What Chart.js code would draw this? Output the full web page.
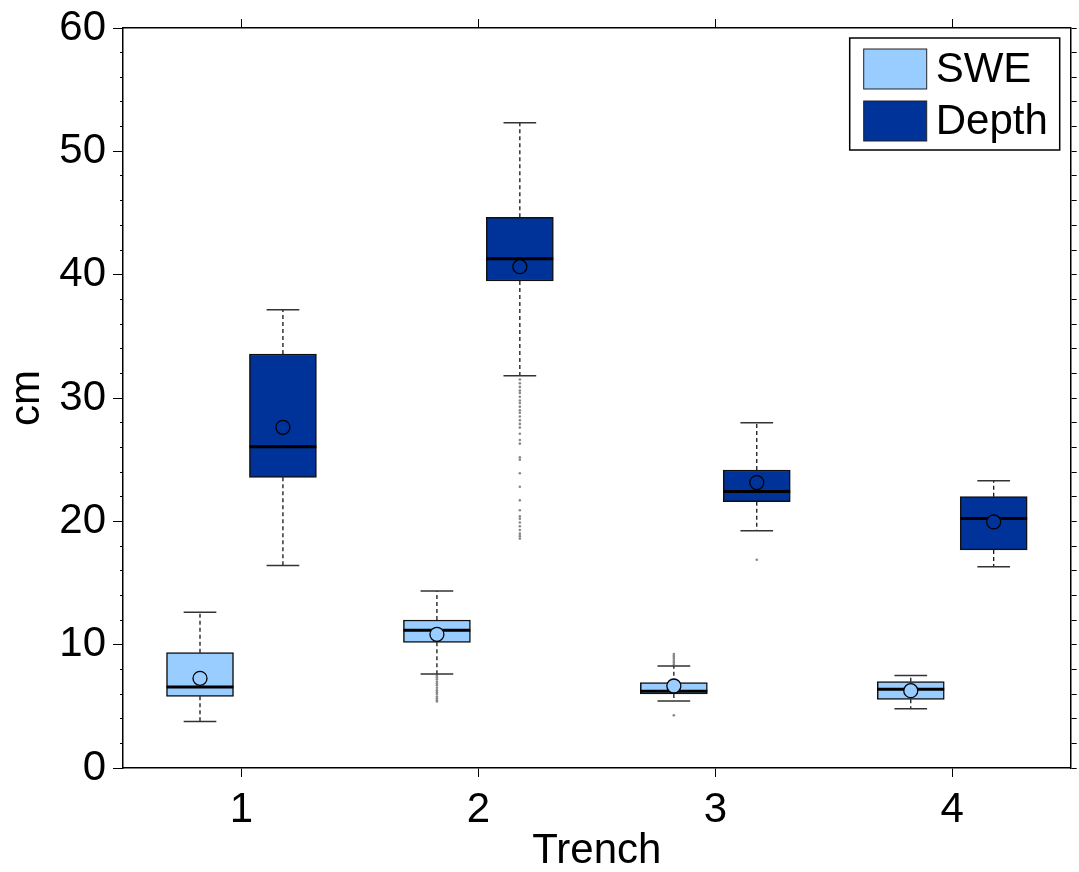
<!DOCTYPE html>
<html>
<head>
<meta charset="utf-8">
<script src="https://cdn.jsdelivr.net/npm/chart.js@4/dist/chart.umd.min.js"></script>
<style>
  html, body { margin: 0; padding: 0; background: #fff; }
  #wrap { width: 1079px; height: 872px; }
</style>
</head>
<body>
<div id="wrap"><canvas id="chart"></canvas></div>
<script>
// box plot values (cm)
const trenches = [1, 2, 3, 4];
const yTicks = [0, 10, 20, 30, 40, 50, 60];

const sweLow = [3.78, 7.62, 5.43, 4.81];
const sweQ1 = [5.81, 10.19, 6.00, 5.57];
const sweMedian = [6.57, 11.16, 6.22, 6.38];
const sweQ3 = [9.35, 12.00, 6.92, 7.00];
const sweHigh = [12.62, 14.35, 8.27, 7.49];
const sweMean = [7.27, 10.84, 6.65, 6.27];
const sweOutliers = [
  [],
  [7.5, 7.35, 7.2, 7.0, 6.85, 6.7, 6.5, 6.3, 6.15, 6.0, 5.8, 5.65, 5.5, 5.4],
  [8.4, 8.55, 8.7, 8.85, 9.0, 9.1, 9.24, 4.27],
  []
];

const depthLow = [16.41, 31.81, 19.24, 16.32];
const depthQ1 = [23.57, 39.49, 21.59, 17.68];
const depthMedian = [26.05, 41.30, 22.41, 20.22];
const depthQ3 = [33.57, 44.65, 24.16, 22.00];
const depthHigh = [37.16, 52.32, 28.00, 23.30];
const depthMean = [27.62, 40.65, 23.14, 19.95];
const depthOutliers = [
  [],
  [31.5, 31.2, 30.9, 30.6, 30.4, 30.1, 29.8, 29.6, 29.3, 29.0, 28.8, 28.5, 28.2, 27.9, 27.6, 27.1,
   26.6, 26.3, 25.2, 25.0, 23.9, 22.8, 21.7, 20.9, 20.4, 20.2, 19.9, 19.6, 19.3, 19.0, 18.8, 18.6],
  [16.89],
  []
];

const FONT = '"Liberation Sans", Arial, Helvetica, sans-serif';
const sweColor = '#99ccff';
const depthColor = '#003399';
// offsets in x units (one trench = 1)
const SIDE = 0.175, HALF_BOX = 0.141, HALF_CAP = 0.069;

function boxData(q1, q3, off) {
  return trenches.map((t, i) => ({ x: t + off, y: [q1[i], q3[i]] }));
}
function hSegs(vals, off, half) {
  const pts = [];
  trenches.forEach((t, i) => {
    pts.push({ x: t + off - half, y: vals[i] }, { x: t + off + half, y: vals[i] }, { x: t + off, y: null });
  });
  return pts;
}
function whiskers(q1, q3, lo, hi, off) {
  const pts = [];
  trenches.forEach((t, i) => {
    const x = t + off;
    pts.push({ x, y: q3[i] }, { x, y: hi[i] }, { x, y: null },
             { x, y: q1[i] }, { x, y: lo[i] }, { x, y: null });
  });
  return pts;
}
function points(vals, off) {
  return trenches.map((t, i) => ({ x: t + off, y: vals[i] }));
}
function outlierPts(out, off) {
  const pts = [];
  trenches.forEach((t, i) => out[i].forEach(v => pts.push({ x: t + off, y: v })));
  return pts;
}

const lineBase = { type: 'line', pointRadius: 0, fill: false, tension: 0, spanGaps: false };

const datasets = [
  // first dataset is drawn on top
  { type: 'scatter', data: points(sweMean, -SIDE), pointRadius: 7, pointBackgroundColor: sweColor,
    pointBorderColor: '#000', pointBorderWidth: 1.3 },
  { type: 'scatter', data: points(depthMean, SIDE), pointRadius: 7, pointBackgroundColor: depthColor,
    pointBorderColor: '#000', pointBorderWidth: 1.3 },
  { ...lineBase, data: hSegs(sweMedian, -SIDE, HALF_BOX), borderColor: '#000', borderWidth: 3 },
  { ...lineBase, data: hSegs(depthMedian, SIDE, HALF_BOX), borderColor: '#000', borderWidth: 3 },
  { type: 'bar', label: 'SWE', data: boxData(sweQ1, sweQ3, -SIDE), backgroundColor: sweColor },
  { type: 'bar', label: 'Depth', data: boxData(depthQ1, depthQ3, SIDE), backgroundColor: depthColor },
  { ...lineBase, data: hSegs(sweLow, -SIDE, HALF_CAP).concat(hSegs(sweHigh, -SIDE, HALF_CAP)),
    borderColor: '#333', borderWidth: 1.5 },
  { ...lineBase, data: hSegs(depthLow, SIDE, HALF_CAP).concat(hSegs(depthHigh, SIDE, HALF_CAP)),
    borderColor: '#333', borderWidth: 1.5 },
  { ...lineBase, data: whiskers(sweQ1, sweQ3, sweLow, sweHigh, -SIDE), borderColor: '#000',
    borderWidth: 1.2, borderDash: [4, 3] },
  { ...lineBase, data: whiskers(depthQ1, depthQ3, depthLow, depthHigh, SIDE), borderColor: '#000',
    borderWidth: 1.2, borderDash: [4, 3] },
  { type: 'scatter', data: outlierPts(sweOutliers, -SIDE), pointRadius: 1.3, pointBorderWidth: 0,
    pointBackgroundColor: '#888' },
  { type: 'scatter', data: outlierPts(depthOutliers, SIDE), pointRadius: 1.3, pointBorderWidth: 0,
    pointBackgroundColor: '#888' }
];

// framed legend inside the upper right corner of the plot
const boxLegend = {
  id: 'boxLegend',
  afterDraw(chart) {
    const ctx = chart.ctx, area = chart.chartArea;
    const items = chart.data.datasets.filter(d => d.type === 'bar');
    const w = 210, h = 112;
    const left = area.right - 11 - w, top = area.top + 10;
    ctx.save();
    ctx.fillStyle = '#fff';
    ctx.fillRect(left, top, w, h);
    ctx.strokeStyle = '#000';
    ctx.lineWidth = 1.5;
    ctx.strokeRect(left, top, w, h);
    ctx.font = '42px ' + FONT;
    ctx.textBaseline = 'middle';
    items.forEach((d, i) => {
      const y = top + 11 + i * 52;
      ctx.fillStyle = d.backgroundColor;
      ctx.fillRect(left + 14, y, 63, 40);
      ctx.lineWidth = 1;
      ctx.strokeStyle = '#222';
      ctx.strokeRect(left + 14, y, 63, 40);
      ctx.fillStyle = '#000';
      ctx.fillText(d.label, left + 86, y + 21);
    });
    ctx.restore();
  }
};

const tickFont = { family: FONT, size: 42, lineHeight: 1 };
const onlyTrenches = axis => { axis.ticks = trenches.map(v => ({ value: v })); };

new Chart(document.getElementById('chart'), {
  type: 'bar',
  data: { datasets },
  options: {
    responsive: true,
    maintainAspectRatio: false,
    animation: false,
    layout: { padding: 0 },
    datasets: {
      bar: { grouped: false, barThickness: 67, maxBarThickness: 67, borderWidth: 1.5,
             borderColor: '#111', borderSkipped: false }
    },
    plugins: { legend: { display: false }, tooltip: { enabled: false } },
    scales: {
      x: {
        type: 'linear', position: 'bottom', min: 0.5, max: 4.5, offset: false,
        afterBuildTicks: onlyTrenches,
        ticks: { font: tickFont, color: '#000', padding: 12, maxRotation: 0, autoSkip: false },
        grid: { drawOnChartArea: false, tickLength: 9, color: '#000', offset: false },
        border: { display: true, color: '#000', width: 1.5 },
        title: { display: true, text: 'Trench', color: '#000',
                 font: { family: FONT, size: 42, lineHeight: 1 }, padding: { top: 0, bottom: 0 } },
        afterFit: a => { a.height = 104; }
      },
      x2: {
        type: 'linear', position: 'top', min: 0.5, max: 4.5, offset: false,
        afterBuildTicks: onlyTrenches,
        ticks: { display: false },
        grid: { drawOnChartArea: false, tickLength: 9, color: '#000', offset: false },
        border: { display: true, color: '#000', width: 1.5 },
        afterFit: a => { a.height = 27; }
      },
      y: {
        type: 'linear', position: 'left', weight: 1, min: 0, max: 60,
        afterBuildTicks: a => { a.ticks = yTicks.map(v => ({ value: v })); },
        ticks: { font: tickFont, color: '#000', padding: 7 },
        grid: { drawOnChartArea: false, tickLength: 10, color: '#000' },
        border: { display: true, color: '#000', width: 1.5 },
        title: { display: true, text: 'cm', color: '#000',
                 font: { family: FONT, size: 42, lineHeight: 1 }, padding: { top: 6, bottom: 6 } },
        afterFit: a => { a.width = 123; }
      },
      yMinor: {
        type: 'linear', position: 'left', weight: 0, min: 0, max: 60,
        ticks: { display: false, stepSize: 2 },
        grid: { drawOnChartArea: false, tickLength: 3, color: '#000' },
        border: { display: false },
        afterFit: a => { a.width = 0; }
      },
      y2: {
        type: 'linear', position: 'right', min: 0, max: 60,
        ticks: { display: false, stepSize: 2 },
        grid: { drawOnChartArea: false, tickLength: 6, color: '#000' },
        border: { display: true, color: '#000', width: 1.5 },
        afterFit: a => { a.width = 6; }
      }
    }
  },
  plugins: [boxLegend]
});
</script>
</body>
</html>
